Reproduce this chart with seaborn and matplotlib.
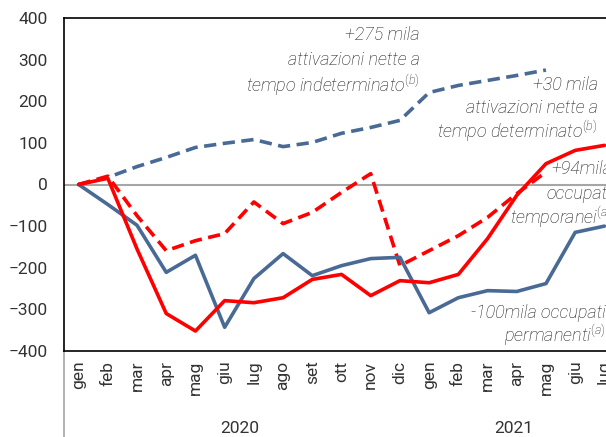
import numpy as np
import pandas as pd
import matplotlib
matplotlib.use("Agg")
import matplotlib.pyplot as plt
import matplotlib.transforms as mtransforms
import seaborn as sns

# months (gen 2020 .. lug 2021)
mesi = ['gen', 'feb', 'mar', 'apr', 'mag', 'giu', 'lug', 'ago', 'set', 'ott', 'nov', 'dic',
        'gen', 'feb', 'mar', 'apr', 'mag', 'giu', 'lug']
anni = ['2020', '2021']

# occupati permanenti (a) - blu continuo
perm = [0, -48, -98, -211, -170, -343, -226, -166, -219, -195, -178, -175,
        -308, -272, -255, -257, -238, -115, -100]
# occupati temporanei (a) - rosso continuo
temp = [0, 15, -155, -310, -352, -279, -284, -272, -228, -216, -267, -231,
        -236, -216, -130, -26, 50, 82, 94]
# attivazioni nette tempo indeterminato (b) - blu tratteggiato
att_ind = [0, 17, 43, 65, 89, 99, 108, 91, 101, 123, 137, 154,
           221, 238, 250, 262, 275]
# attivazioni nette tempo determinato (b) - rosso tratteggiato
att_det = [0, 20, -75, -159, -135, -118, -42, -94, -67, -19, 26, -195,
           -159, -123, -79, -22, 30]

BLUE = '#4a6a96'
RED = '#ff0000'

sns.set_style("white")
plt.rcParams['font.family'] = ['Roboto', 'DejaVu Sans']
plt.rcParams['mathtext.fontset'] = 'custom'
plt.rcParams['mathtext.rm'] = 'Roboto:light'
plt.rcParams['mathtext.it'] = 'Roboto:italic:light'

fig = plt.figure(figsize=(6.06, 4.37), dpi=100)
ax = fig.add_axes([64 / 606, 1 - 351 / 437, 555 / 606, 333 / 437])

ax.axhline(0, color='#a6a6a6', lw=1.5, zorder=1)

df_perm = pd.DataFrame({'x': np.arange(len(perm)), 'y': perm})
df_temp = pd.DataFrame({'x': np.arange(len(temp)), 'y': temp})
df_ind = pd.DataFrame({'x': np.arange(len(att_ind)), 'y': att_ind})
df_det = pd.DataFrame({'x': np.arange(len(att_det)), 'y': att_det})

sns.lineplot(data=df_ind, x='x', y='y', color=BLUE, lw=2.6, ax=ax,
             linestyle=(0, (3.4, 1.8)))
sns.lineplot(data=df_det, x='x', y='y', color=RED, lw=2.6, ax=ax,
             linestyle=(0, (3.4, 1.8)))
sns.lineplot(data=df_perm, x='x', y='y', color=BLUE, lw=2.6, ax=ax)
sns.lineplot(data=df_temp, x='x', y='y', color=RED, lw=2.6, ax=ax)

ax.set_xlim(-0.5, len(mesi) - 0.5)
ax.set_ylim(-400, 400)
ax.set_yticks(np.arange(-400, 401, 100))
ax.set_xticks(np.arange(len(mesi)))
ax.set_xticklabels(mesi, rotation=90, fontsize=12.5, color='#333333')
ax.tick_params(axis='y', labelsize=12.5, labelcolor='#333333', length=0, pad=12)
ax.tick_params(axis='x', length=0, pad=7)
ax.set_xlabel('')
ax.set_ylabel('')
for sp in ax.spines.values():
    sp.set_color('black')
    sp.set_linewidth(1.2)

# year labels and separator
trans = mtransforms.blended_transform_factory(ax.transData, ax.transAxes)
ax.text(5.5, -0.232, anni[0], transform=trans, ha='center', va='center', fontsize=12.5, color='#333333')
ax.text(14.9, -0.232, anni[1], transform=trans, ha='center', va='center', fontsize=12.5, color='#333333')
ax.plot([-0.5, -0.5], [0, -0.3], transform=trans, color='#a6a6a6', lw=1.2, clip_on=False)

# annotations, one line at a time
tkw = dict(fontsize=13, style='italic', fontweight='light', color='#1a1a1a',
           ha='right', va='center', clip_on=False)
notes = [
    (11.68, [358, 298, 238], ['+275 mila', 'attivazioni nette a', 'tempo indeterminato$^{(b)}$']),
    (17.77, [238, 183, 127], ['+30 mila', 'attivazioni nette a', 'tempo determinato$^{(b)}$']),
    (18.25, [38, -24, -79], ['+94mila', 'occupati', 'temporanei$^{(a)}$']),
    (18.05, [-308, -362], ['-100mila occupati', 'permanenti$^{(a)}$']),
]
for xr, ys, lines in notes:
    for yv, s in zip(ys, lines):
        ax.text(xr, yv, s, **tkw)

fig.savefig('out.png', dpi=100)
